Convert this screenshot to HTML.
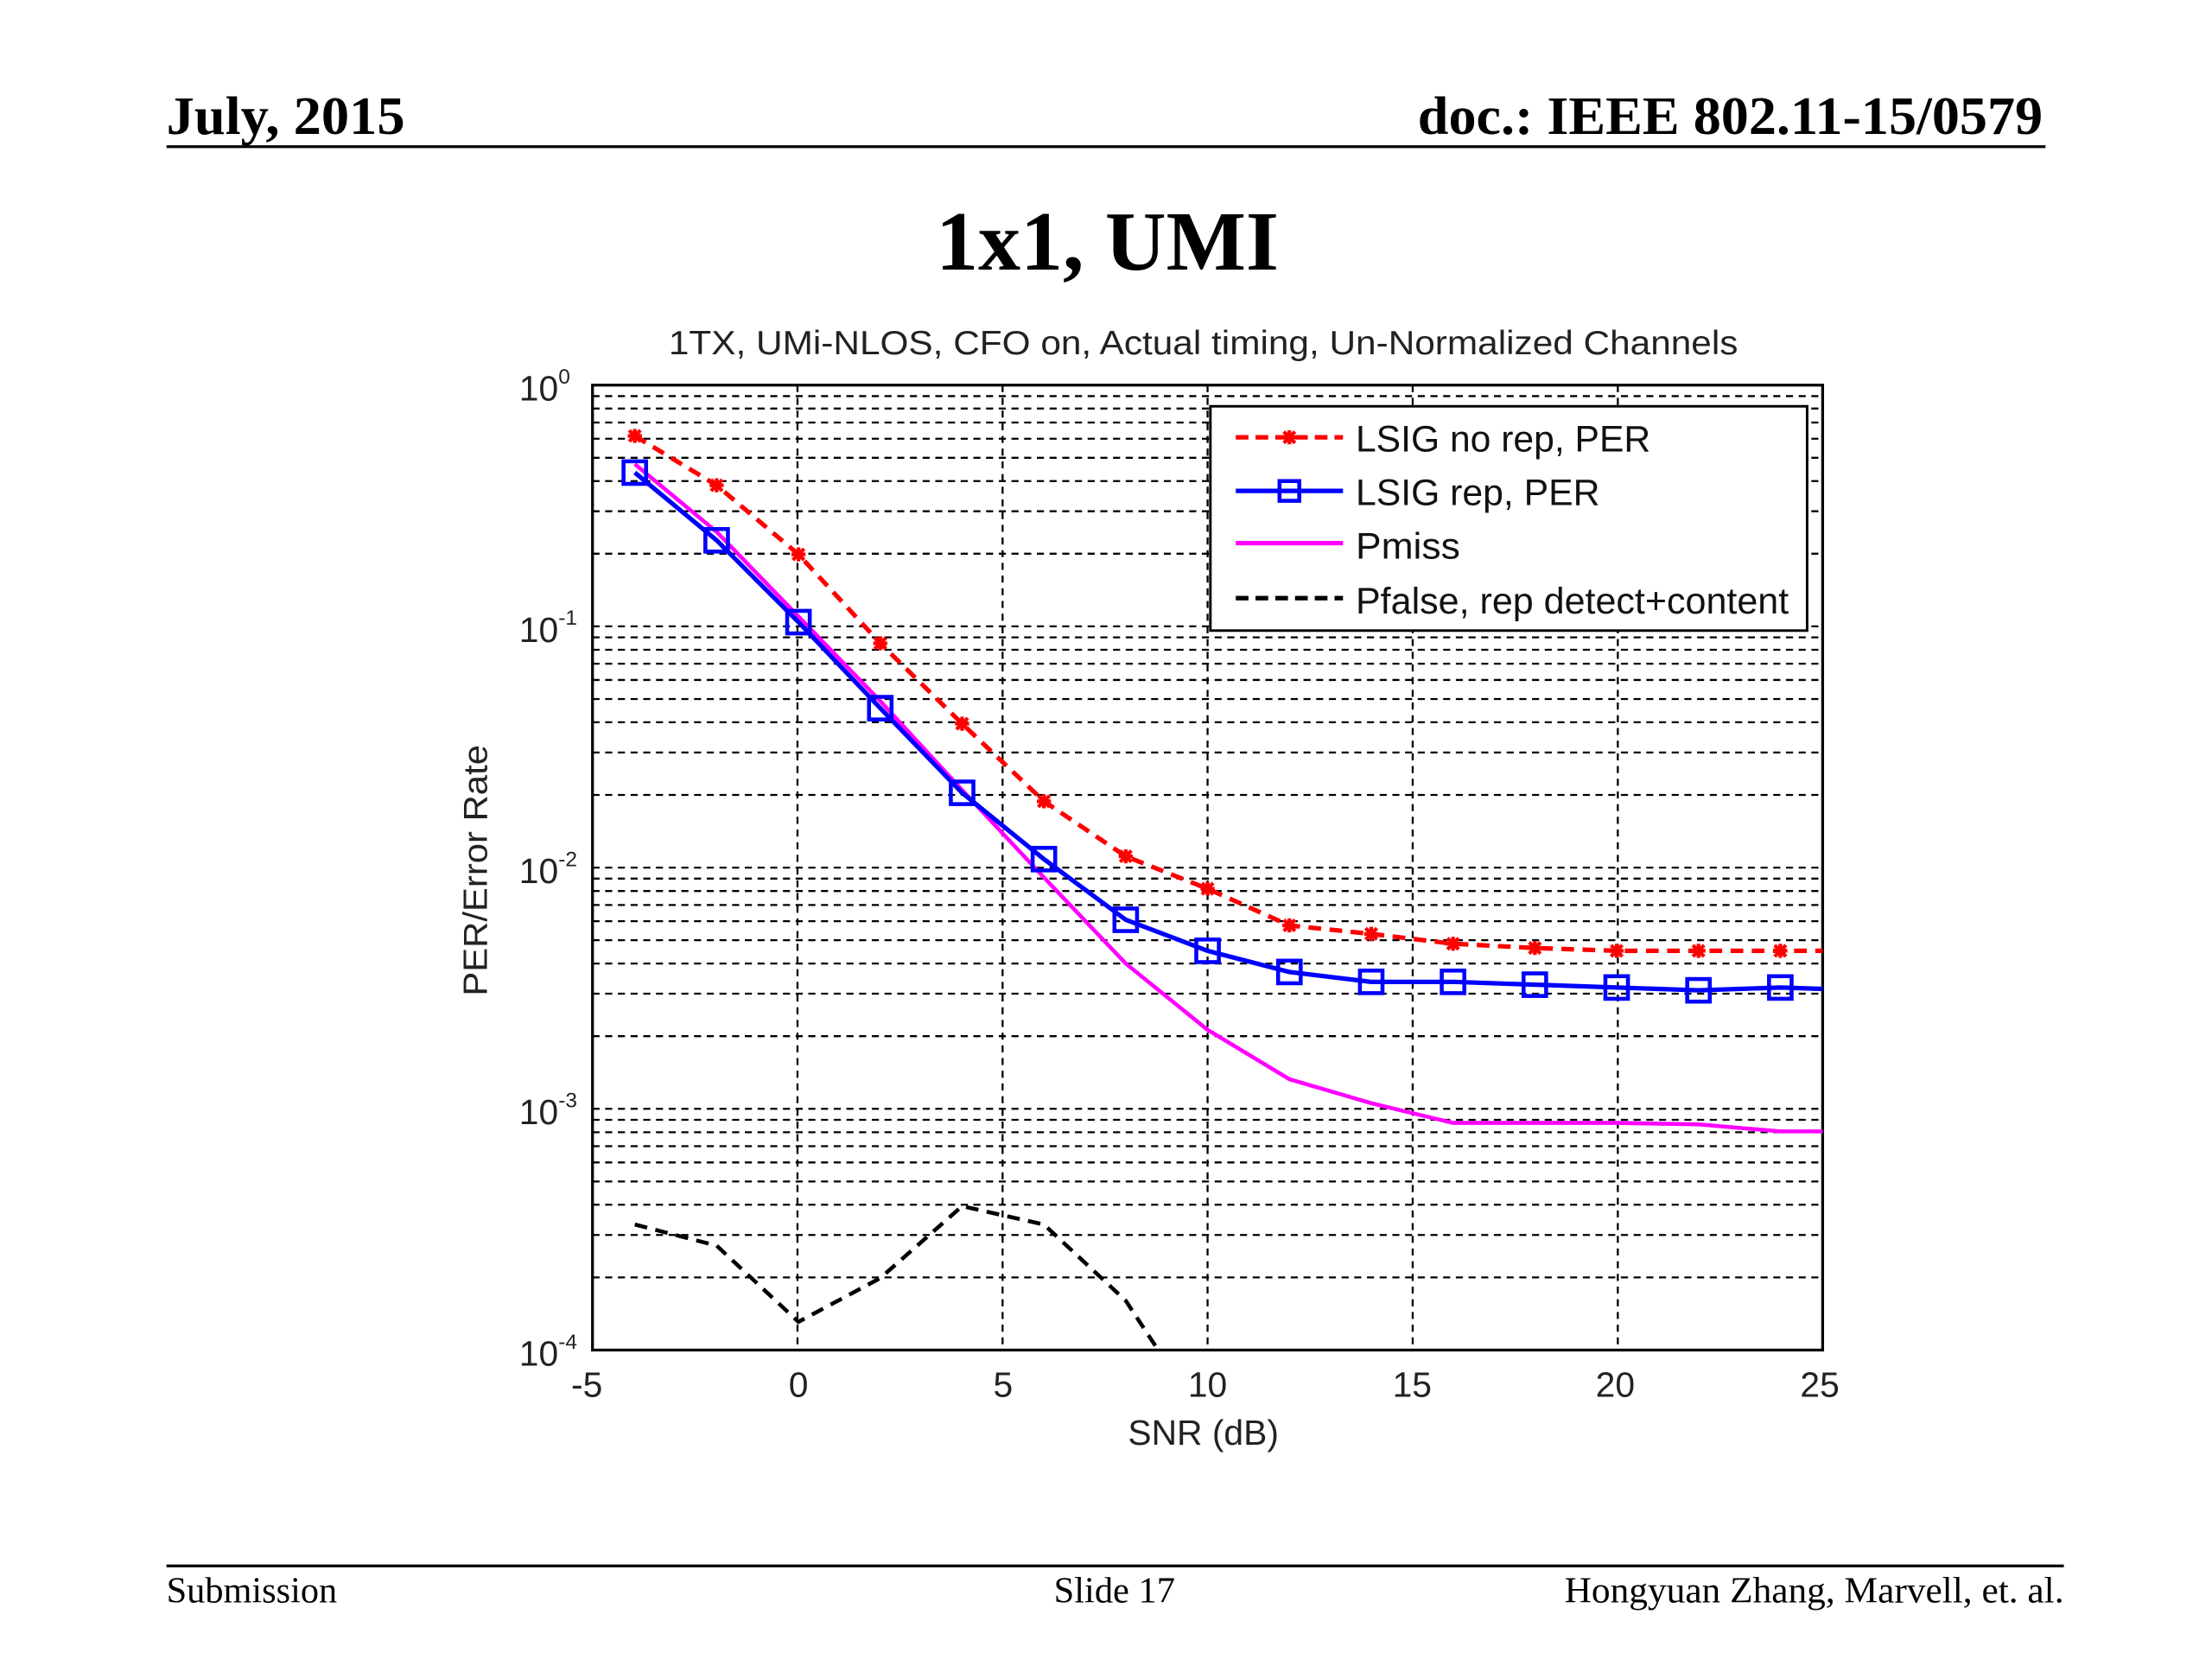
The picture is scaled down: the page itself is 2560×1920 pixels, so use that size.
<!DOCTYPE html>
<html><head><meta charset="utf-8"><style>
html,body{margin:0;padding:0;background:#fff;}
svg{display:block;}
</style></head><body>
<svg width="2560" height="1920" viewBox="0 0 1568 1176" preserveAspectRatio="none" xmlns="http://www.w3.org/2000/svg">
<rect width="1568" height="1176" fill="#fff"/>
<g font-family="Liberation Serif, serif" fill="#000">
<text x="118" y="95" font-size="38" font-weight="bold" textLength="169" lengthAdjust="spacingAndGlyphs">July, 2015</text>
<text x="1448" y="95" font-size="38" font-weight="bold" text-anchor="end" textLength="443" lengthAdjust="spacingAndGlyphs">doc.: IEEE 802.11-15/0579</text>
<text x="785" y="191" font-size="60" font-weight="bold" text-anchor="middle" textLength="243" lengthAdjust="spacingAndGlyphs">1x1, UMI</text>
<text x="118" y="1136" font-size="26" textLength="121" lengthAdjust="spacingAndGlyphs">Submission</text>
<text x="790" y="1136" font-size="26" text-anchor="middle">Slide 17</text>
<text x="1463" y="1136" font-size="26" text-anchor="end" textLength="354" lengthAdjust="spacingAndGlyphs">Hongyuan Zhang,  Marvell, et. al.</text>
</g>
<line x1="118" y1="104" x2="1450" y2="104" stroke="#000" stroke-width="2"/>
<line x1="118" y1="1110" x2="1463" y2="1110" stroke="#000" stroke-width="2"/>

<g font-family="Liberation Sans, Arial, sans-serif" fill="#222">
<text x="853" y="251" font-size="24" text-anchor="middle" textLength="758" lengthAdjust="spacingAndGlyphs">1TX, UMi-NLOS, CFO on, Actual timing, Un-Normalized Channels</text>
<text x="853" y="1024" font-size="25" text-anchor="middle">SNR (dB)</text>
<text transform="translate(345,617) rotate(-90)" font-size="24" text-anchor="middle" textLength="178" lengthAdjust="spacingAndGlyphs">PER/Error Rate</text>
<g font-size="25" text-anchor="middle">
<text x="416" y="990">-5</text><text x="566" y="990">0</text><text x="711" y="990">5</text><text x="856" y="990">10</text><text x="1001" y="990">15</text><text x="1145" y="990">20</text><text x="1290" y="990">25</text>
</g>
<g font-size="25">
<text x="368" y="284">10<tspan font-size="15" dy="-12">0</tspan></text>
<text x="368" y="455">10<tspan font-size="15" dy="-12">-1</tspan></text>
<text x="368" y="626">10<tspan font-size="15" dy="-12">-2</tspan></text>
<text x="368" y="797">10<tspan font-size="15" dy="-12">-3</tspan></text>
<text x="368" y="968">10<tspan font-size="15" dy="-12">-4</tspan></text>
</g>
</g>

<g stroke="#000" stroke-width="1.4" stroke-dasharray="5,4" fill="none">
<path d="M420 280.8H1292M420 289.6H1292M420 299.5H1292M420 311H1292M420 324.5H1292M420 341H1292M420 362.4H1292M420 392.5H1292M420 444H1292
M420 451.8H1292M420 460.6H1292M420 470.5H1292M420 482H1292M420 495.5H1292M420 512H1292M420 533.4H1292M420 563.5H1292M420 615H1292
M420 622.8H1292M420 631.6H1292M420 641.5H1292M420 653H1292M420 666.5H1292M420 683H1292M420 704.4H1292M420 734.5H1292M420 786H1292
M420 793.8H1292M420 802.6H1292M420 812.5H1292M420 824H1292M420 837.5H1292M420 854H1292M420 875.4H1292M420 905.5H1292
M565.3 273V957M710.7 273V957M856 273V957M1001.4 273V957M1146.8 273V957"/>
</g>
<rect x="420" y="273" width="872" height="684" fill="none" stroke="#000" stroke-width="2"/>

<polyline fill="none" stroke="#000" stroke-width="2.8" stroke-dasharray="9,6" points="450,868 508,883 566,937 624,906 682,855 740,868 798,922 821,957"/>
<polyline fill="none" stroke="#ff00ff" stroke-width="2.8" points="450,329 508,377 566,437 624,497 682,560 740,622 798,683 856,730 914,765 972,782 1030,796 1088,796 1146,796 1204,797 1262,802 1292,802"/>
<polyline fill="none" stroke="#0000ff" stroke-width="3.2" points="450,335 508,383 566,441 624,502 682,562 740,609 798,652 856,674 914,689 972,696 1030,696 1088,698 1146,700 1204,702 1262,700 1292,701"/>
<g fill="none" stroke="#0000ff" stroke-width="2.8">
<rect x="442" y="327" width="16" height="16"/><rect x="500" y="375" width="16" height="16"/><rect x="558" y="433" width="16" height="16"/><rect x="616" y="494" width="16" height="16"/><rect x="674" y="554" width="16" height="16"/><rect x="732" y="601" width="16" height="16"/><rect x="790" y="644" width="16" height="16"/><rect x="848" y="666" width="16" height="16"/><rect x="906" y="681" width="16" height="16"/><rect x="964" y="688" width="16" height="16"/><rect x="1022" y="688" width="16" height="16"/><rect x="1080" y="690" width="16" height="16"/><rect x="1138" y="692" width="16" height="16"/><rect x="1196" y="694" width="16" height="16"/><rect x="1254" y="692" width="16" height="16"/>
</g>
<polyline fill="none" stroke="#ff0000" stroke-width="3.2" stroke-dasharray="9,6" points="450,309 508,344 566,393 624,456 682,513 740,568 798,607 856,630 914,656 972,662 1030,669 1088,672 1146,674 1204,674 1262,674 1292,674"/>
<defs><path id="st" d="M-5 0H5M0 -5V5M-4 -4L4 4M-4 4L4 -4" stroke="#ff0000" stroke-width="2.6"/></defs>
<g>
<use href="#st" x="450" y="309"/><use href="#st" x="508" y="344"/><use href="#st" x="566" y="393"/><use href="#st" x="624" y="456"/><use href="#st" x="682" y="513"/><use href="#st" x="740" y="568"/><use href="#st" x="798" y="607"/><use href="#st" x="856" y="630"/><use href="#st" x="914" y="656"/><use href="#st" x="972" y="662"/><use href="#st" x="1030" y="669"/><use href="#st" x="1088" y="672"/><use href="#st" x="1146" y="674"/><use href="#st" x="1204" y="674"/><use href="#st" x="1262" y="674"/>
</g>

<rect x="858" y="288" width="423" height="159" fill="#fff" stroke="#000" stroke-width="1.8"/>
<line x1="876" y1="310" x2="952" y2="310" stroke="#ff0000" stroke-width="3.2" stroke-dasharray="9,5"/>
<use href="#st" x="914" y="310"/>
<line x1="876" y1="348" x2="952" y2="348" stroke="#0000ff" stroke-width="3.2"/>
<rect x="907" y="341" width="14" height="14" fill="none" stroke="#0000ff" stroke-width="2.8"/>
<line x1="876" y1="385" x2="952" y2="385" stroke="#ff00ff" stroke-width="3.2"/>
<line x1="876" y1="424" x2="952" y2="424" stroke="#000" stroke-width="3.2" stroke-dasharray="9,5"/>
<g font-family="Liberation Sans, Arial, sans-serif" font-size="26" fill="#111">
<text x="961" y="320" textLength="209" lengthAdjust="spacingAndGlyphs">LSIG no rep, PER</text>
<text x="961" y="358" textLength="173" lengthAdjust="spacingAndGlyphs">LSIG rep, PER</text>
<text x="961" y="396" textLength="74" lengthAdjust="spacingAndGlyphs">Pmiss</text>
<text x="961" y="435" textLength="307" lengthAdjust="spacingAndGlyphs">Pfalse, rep detect+content</text>
</g>
</svg>
</body></html>
